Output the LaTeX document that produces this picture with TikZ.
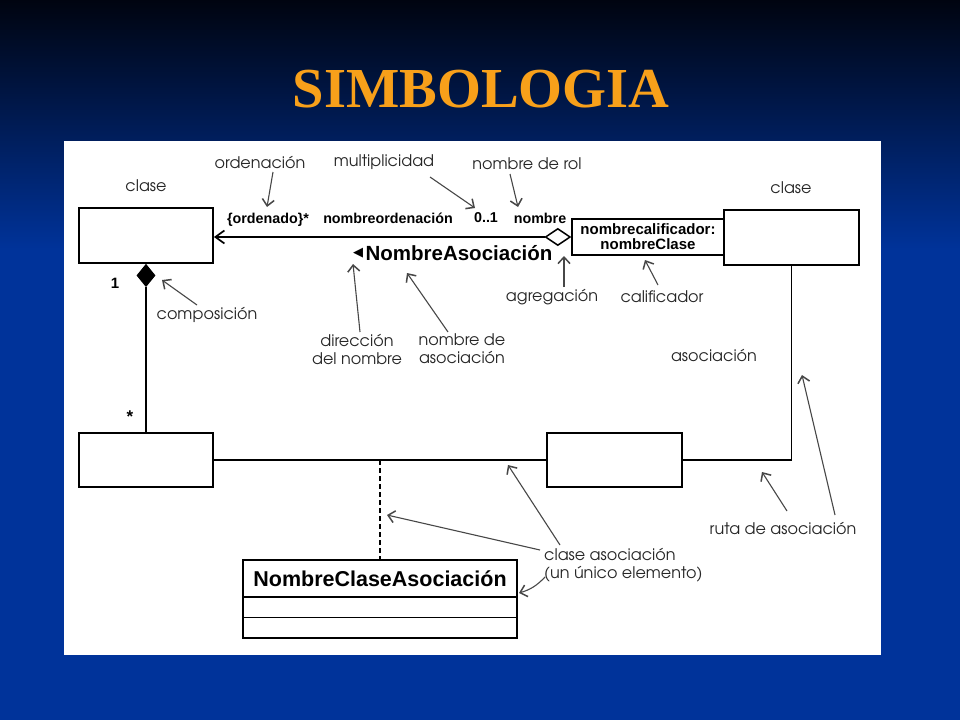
\documentclass[tikz,border=0pt]{standalone}
\usepackage{fontspec}
\setmainfont{Liberation Sans}
\newfontfamily\labfont{TeX Gyre Adventor}
\newfontfamily\titlefont{Liberation Serif}
\newfontfamily\symfont{DejaVu Sans}
\usetikzlibrary{arrows.meta,shapes.geometric}
\definecolor{slideblue}{HTML}{00339A}
\definecolor{slidetop}{HTML}{000410}
\definecolor{slidemid}{HTML}{00185A}
\definecolor{titleorange}{HTML}{F8A01A}
\begin{document}
\begin{tikzpicture}[x=1pt,y=-1pt,
  box/.style={draw=black,line width=1.9pt,fill=white,minimum width=134pt,minimum height=55pt,inner sep=0pt},
  lab/.style={font=\labfont\fontsize{16}{18}\selectfont,inner sep=1pt,text=black!85,align=center},
  bld/.style={font=\bfseries\fontsize{14.3}{16}\selectfont,inner sep=1pt},
  ann/.style={draw=black!72,line width=1.1pt,-{Straight Barb[length=6.5pt,width=12pt,line width=1.5pt]}},
  mainline/.style={draw=black,line width=1.9pt},
  part/.style={minimum width=273pt,inner sep=0pt}]
% background
\useasboundingbox (0,0) rectangle (960,720);
\fill[slideblue] (0,0) rectangle (960,720);
\shade[top color=slidetop,middle color=slidemid,bottom color=slideblue] (0,0) rectangle (960,250);
% title
\node[font=\titlefont\bfseries\fontsize{56.5}{60}\selectfont,text=titleorange] (title) at (481,89) {SIMBOLOGIA};
% panel
\fill[white] (64,141) rectangle (881,655);

% classes
\node[box] (c1) at (146,235.5) {};
\node[box,minimum width=135pt] (c2) at (791.5,237.5) {};
\node[box,minimum height=54pt] (c3) at (146,460) {};
\node[box,minimum width=135pt,minimum height=54pt] (c4) at (614.5,460) {};
\node[lab] (c1l) at (146,186) {clase};
\node[lab] (c2l) at (791,188) {clase};

% qualifier
\node[draw=black,line width=1.9pt,fill=white,minimum width=152pt,minimum height=36pt,inner sep=0pt,
      font=\bfseries\fontsize{15}{15}\selectfont,align=center] (q) at (648,237) {nombrecalificador:\\nombreClase};
% aggregation diamond
\node[diamond,draw=black,line width=1.5pt,fill=white,minimum width=25pt,minimum height=17pt,inner sep=0pt,anchor=east] (ag) at (q.west) {};
% composition diamond
\node[diamond,draw=black,fill=black,line width=1pt,minimum width=18pt,minimum height=22pt,inner sep=0pt,anchor=north] (cp) at (c1.south) {};

% association line with navigability
\draw[mainline,-{Straight Barb[length=9pt,width=13pt,line width=1.7pt]}] (ag.west) -- (c1.east |- ag.west);
% composition line
\draw[mainline] (cp.south) -- (c3.north);
% bottom association path
\draw[mainline] (c3.east) -- (c4.west);
\draw[mainline] (c4.east) -| (c2.south);
% association class
\node[part,minimum height=37pt,font=\bfseries\fontsize{21.5}{24}\selectfont] (n1) at (380,578.5) {NombreClaseAsociación};
\node[part,minimum height=20pt,anchor=north] (n2) at (n1.south) {};
\node[part,minimum height=20pt,anchor=north] (n3) at (n2.south) {};
\draw[mainline] (n1.north west) rectangle (n3.south east);
\draw[draw=black,line width=1.5pt] (n2.north west) -- (n2.north east);
\draw[draw=black,line width=1.5pt] (n3.north west) -- (n3.north east);
\coordinate (j) at (380,460);
\draw[mainline,dash pattern=on 5pt off 3pt] (j) -- (n1.north);

% end labels
\node[bld] (ord) at (268,220) {\{ordenado\}*};
\node[bld] (nord) at (388,218) {nombreordenación};
\node[bld] (mult) at (486,218) {0..1};
\node[bld] (rol) at (540,218) {nombre};
\node[bld,font=\bfseries\fontsize{15}{16}\selectfont] (one) at (115,283) {1};
\node[bld,font=\bfseries\fontsize{17}{18}\selectfont] (star) at (130,417) {*};
% association name
\node[font=\bfseries\fontsize{20.5}{24}\selectfont,inner sep=0pt] (na) at (459,253) {NombreAsociación};
\node[font=\symfont\fontsize{13}{14}\selectfont,inner sep=0pt] (dir) at (358,253) {◀};

% annotations
\node[lab] (l1) at (260,162) {ordenación};
\node[lab] (l2) at (384,162) {multiplicidad};
\node[lab] (l3) at (527,164) {nombre de rol};
\node[lab] (l4) at (207,315) {composición};
\node[lab] (l5) at (357,349) {dirección\\del nombre};
\node[lab] (l6) at (462,349) {nombre de\\asociación};
\node[lab] (l7) at (552,297) {agregación};
\node[lab] (l8) at (662,297) {calificador};
\node[lab] (l9) at (714,355) {asociación};
\node[lab] (l10) at (783,528) {ruta de asociación};
\node[lab,align=left,anchor=west] (l11) at (543,565) {clase asociación\\(un único elemento)};

\coordinate (t1) at (267,207);
\coordinate (t2) at (475,208);
\coordinate (t3) at (518,207);
\coordinate (t4) at (162,280);
\coordinate (t5) at (353,264);
\coordinate (t6) at (407,273);
\coordinate (t7) at (564,256);
\coordinate (t8) at (645,260);
\coordinate (t9) at (762,472);
\coordinate (t10) at (802,375);
\coordinate (t11) at (508,465);
\coordinate (t12) at (387,515);
\coordinate (t13) at (519,593);

\draw[ann] (273,172) -- (t1);
\draw[ann] (430,177) -- (t2);
\draw[ann] (510,174) -- (t3);
\draw[ann] (197,305) -- (t4);
\draw[ann] (360,332) -- (t5);
\draw[ann] (448,332) -- (t6);
\draw[ann] (564,287) -- (t7);
\draw[ann] (658,285) -- (t8);
\draw[ann] (787,511) -- (t9);
\draw[ann] (835,515) -- (t10);
\draw[ann] (560,545) -- (t11);
\draw[ann] (540,550) -- (t12);
\draw[ann] (545,577) to[bend left=15] (t13);
\end{tikzpicture}
\end{document}
